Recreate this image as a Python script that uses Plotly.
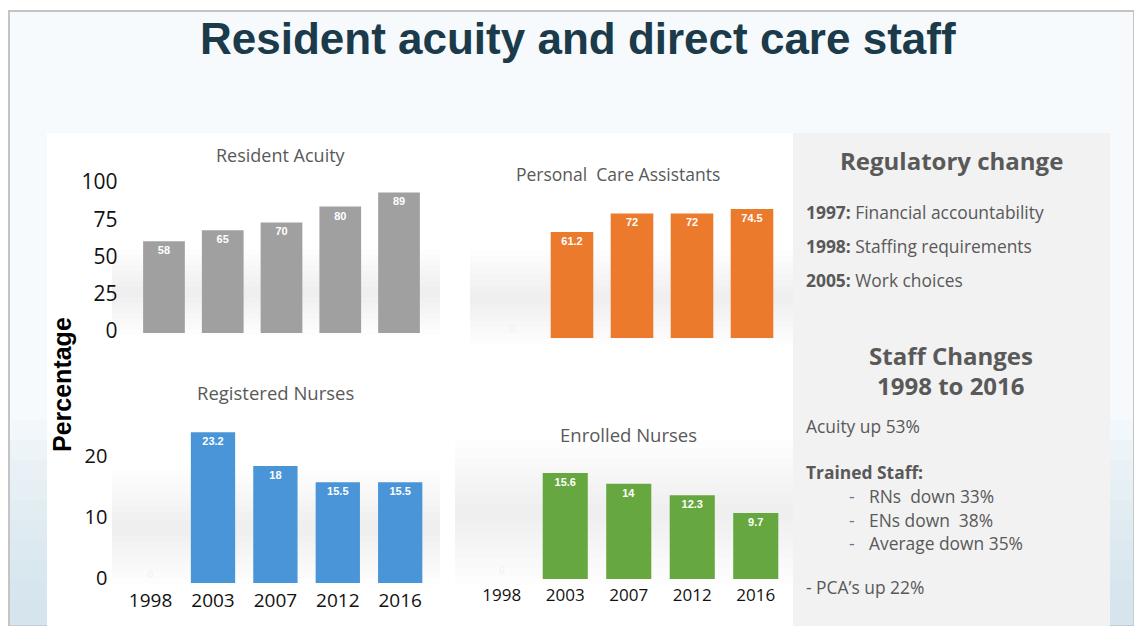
import plotly.graph_objects as go

W, H = 1134, 626

# ---------------- data ----------------
years = ["1998", "2003", "2007", "2012", "2016"]
acuity = [58, 65, 70, 80, 89]
pca = [0, 61.2, 72, 72, 74.5]
rn = [0, 23.2, 18, 15.5, 15.5]
en = [0, 15.6, 14, 12.3, 9.7]

acuity_ticks = [0, 25, 50, 75, 100]
nurse_ticks = [0, 10, 20]

chart_titles = ["Resident Acuity", "Personal  Care Assistants", "Registered Nurses", "Enrolled Nurses"]

reg_items = [("1997:", "Financial accountability"),
             ("1998:", "Staffing requirements"),
             ("2005:", "Work choices")]
trained_items = ["RNs  down 33%", "ENs down  38%", "Average down 35%"]


def fx(x):
    return x / W


def fy(y):
    return 1 - y / H


fig = go.Figure()

# (values, color, x-left px, x-right px, y-bottom px, y-top px, y-range, axis suffix)
panels = [
    (acuity, "#a0a0a0", 134.6, 428.4, 333, 175, [0, 100], ""),
    (pca, "#ec7a2c", 482, 782, 338, 165, [0, 100], "2"),
    (rn, "#4a95d8", 119.4, 431.4, 583, 420.5, [0, 25], "3"),
    (en, "#66a83f", 470, 787.5, 579, 409, [0, 25], "4"),
]

for vals, color, x0, x1, yb, yt, yr, sfx in panels:
    fig.add_trace(go.Bar(
        x=years, y=vals,
        xaxis="x" + sfx, yaxis="y" + sfx,
        marker=dict(color=color, line=dict(width=0)),
        text=[str(v) for v in vals],
        textposition=["outside" if v == 0 else "inside" for v in vals],
        insidetextanchor="end",
        textangle=0,
        constraintext="none",
        cliponaxis=False,
        insidetextfont=dict(color="white", size=11, family="Liberation Sans", weight="bold"),
        outsidetextfont=dict(color="#f4f4f4", size=11, family="Liberation Sans", weight="bold"),
        showlegend=False,
        hoverinfo="skip",
    ))

layout_axes = {}
for i, (vals, color, x0, x1, yb, yt, yr, sfx) in enumerate(panels):
    xa = "xaxis" + sfx
    ya = "yaxis" + sfx
    layout_axes[xa] = dict(domain=[fx(x0), fx(x1)], anchor="y" + sfx, automargin=False,
                           showgrid=False, zeroline=False, showline=False, ticks="",
                           showticklabels=(sfx in ("3", "4")),
                           tickfont=dict(family="Open Sans", size=19 if sfx == "3" else 17, color="#111111"),
                           ticklabelstandoff=4, fixedrange=True)
    layout_axes[ya] = dict(domain=[fy(yb), fy(yt)], anchor="x" + sfx, range=yr, automargin=False,
                           showgrid=False, zeroline=False, showline=False, ticks="",
                           showticklabels=False, fixedrange=True)

# separate value axes carrying the printed scale labels (as placed on the slide)
scale_axes = [
    # (suffix, x-left px, x-right px, y of 0 px, y of top tick px, top value, ticks, font size, standoff)
    ("5", 134.6, 428.4, 331, 182, 100, acuity_ticks, 21, 16),
    ("6", 119.4, 431.4, 578, 456, 20, nurse_ticks, 20, 11),
]
for sfx, x0, x1, y0, y1, top, tv, fs, so in scale_axes:
    fig.add_trace(go.Scatter(x=[None], y=[None], xaxis="x" + sfx, yaxis="y" + sfx,
                             mode="markers", showlegend=False, hoverinfo="skip"))
    layout_axes["xaxis" + sfx] = dict(domain=[fx(x0), fx(x1)], anchor="y" + sfx, automargin=False,
                                      range=[0, 1], visible=False, fixedrange=True)
    layout_axes["yaxis" + sfx] = dict(domain=[fy(y0), fy(y1)], anchor="x" + sfx, range=[0, top],
                                      automargin=False, showgrid=False, zeroline=False, showline=False,
                                      ticks="", tickvals=tv,
                                      tickfont=dict(family="Open Sans", size=fs, color="#111111"),
                                      ticklabelstandoff=so, fixedrange=True)

shapes = []
# slide background with border
shapes.append(dict(type="rect", xref="paper", yref="paper", x0=fx(9), x1=fx(1134), y0=fy(626), y1=fy(11),
                   fillcolor="#f6fafc", line=dict(color="#c4c4c4", width=2), layer="below"))
# bluish gradient strips on slide edges
for k in range(10):
    shapes.append(dict(type="rect", xref="paper", yref="paper", x0=fx(10), x1=fx(47),
                       y0=fy(626), y1=fy(420 + 20 * k), fillcolor="rgba(190,222,235,0.08)",
                       line=dict(width=0), layer="below"))
    shapes.append(dict(type="rect", xref="paper", yref="paper", x0=fx(1110), x1=fx(1134),
                       y0=fy(626), y1=fy(420 + 20 * k), fillcolor="rgba(190,222,235,0.08)",
                       line=dict(width=0), layer="below"))
# chart panel (white)
shapes.append(dict(type="rect", xref="paper", yref="paper", x0=fx(47), x1=fx(793), y0=fy(626), y1=fy(133),
                   fillcolor="#ffffff", line=dict(width=0), layer="below"))
# soft gray bands behind charts (image shading)
bands = [(112, 440, 250, 335), (470, 793, 250, 345), (112, 440, 470, 585), (455, 793, 440, 585)]
for bx0, bx1, by0, by1 in bands:
    n = 8
    for k in range(n):
        mid = (by0 + by1) / 2
        half = (by1 - by0) / 2 * (1 - k / n)
        shapes.append(dict(type="rect", xref="paper", yref="paper", x0=fx(bx0), x1=fx(bx1),
                           y0=fy(mid + half), y1=fy(mid - half),
                           fillcolor="rgba(200,200,200,0.045)", line=dict(width=0), layer="below"))
# right info panel
shapes.append(dict(type="rect", xref="paper", yref="paper", x0=fx(793), x1=fx(1110), y0=fy(626), y1=fy(133),
                   fillcolor="#f2f2f2", line=dict(width=0), layer="below"))

annotations = []


def ann(text, x, y, size, color, family, xanchor="center", bold=False, textangle=0):
    annotations.append(dict(text=("<b>%s</b>" % text) if bold else text, x=fx(x), y=fy(y),
                            xref="paper", yref="paper", xanchor=xanchor, yanchor="middle",
                            showarrow=False, textangle=textangle,
                            font=dict(size=size, color=color, family=family)))


ann("Resident acuity and direct care staff", 578, 38, 44, "#1b3a4a", "Liberation Sans", bold=True)
ann("Percentage", 62, 385, 25, "#000000", "Liberation Sans", bold=True, textangle=-90)

ann(chart_titles[0], 281, 155, 18, "#595959", "Open Sans")
ann(chart_titles[1], 618, 174, 17.5, "#595959", "Open Sans")
ann(chart_titles[2], 275, 392, 18.5, "#595959", "Open Sans")
ann(chart_titles[3], 628, 434, 18.5, "#595959", "Open Sans")

pc = "#595959"
pf = "Open Sans"
ann("Regulatory change", 951, 160, 24, pc, pf, bold=True)
for i, (yr_s, txt) in enumerate(reg_items):
    annotations.append(dict(text="<b>%s</b> %s" % (yr_s, txt), x=fx(804), y=fy(212 + 34 * i),
                            xref="paper", yref="paper", xanchor="left", yanchor="middle", showarrow=False,
                            font=dict(size=17.4, color=pc, family=pf)))
ann("Staff Changes", 951, 355, 24, pc, pf, bold=True)
ann("1998 to 2016", 951, 385, 24, pc, pf, bold=True)
ann("Acuity up 53%", 804, 426, 17.4, pc, pf, xanchor="left")
ann("Trained Staff:", 804, 472, 17.4, pc, pf, xanchor="left", bold=True)
for i, t in enumerate(trained_items):
    ann("-", 847, 496 + 23.5 * i, 17.4, "#5a7a9a", pf, xanchor="left")
    ann(t, 867, 496 + 23.5 * i, 17.4, pc, pf, xanchor="left")
ann("- PCA\u2019s up 22%", 804, 587, 17.4, pc, pf, xanchor="left")

fig.update_layout(
    width=W, height=H,
    autosize=False,
    margin=dict(l=0, r=0, t=0, b=0, pad=0, autoexpand=False),
    paper_bgcolor="#ffffff",
    plot_bgcolor="rgba(0,0,0,0)",
    bargap=0.29,
    shapes=shapes,
    annotations=annotations,
    showlegend=False,
    **layout_axes,
)

post = ("document.documentElement.style.margin='0';document.body.style.margin='0';"
        "document.body.style.padding='0';document.body.style.overflow='hidden';"
        "var d=document.getElementById('{plot_id}');d.style.position='fixed';"
        "d.style.left='0px';d.style.top='0px';d.style.width='1134px';d.style.height='626px';")

fig.write_html("out.html", config={"displayModeBar": False, "responsive": False},
               default_width="1134px", default_height="626px", post_script=post)
